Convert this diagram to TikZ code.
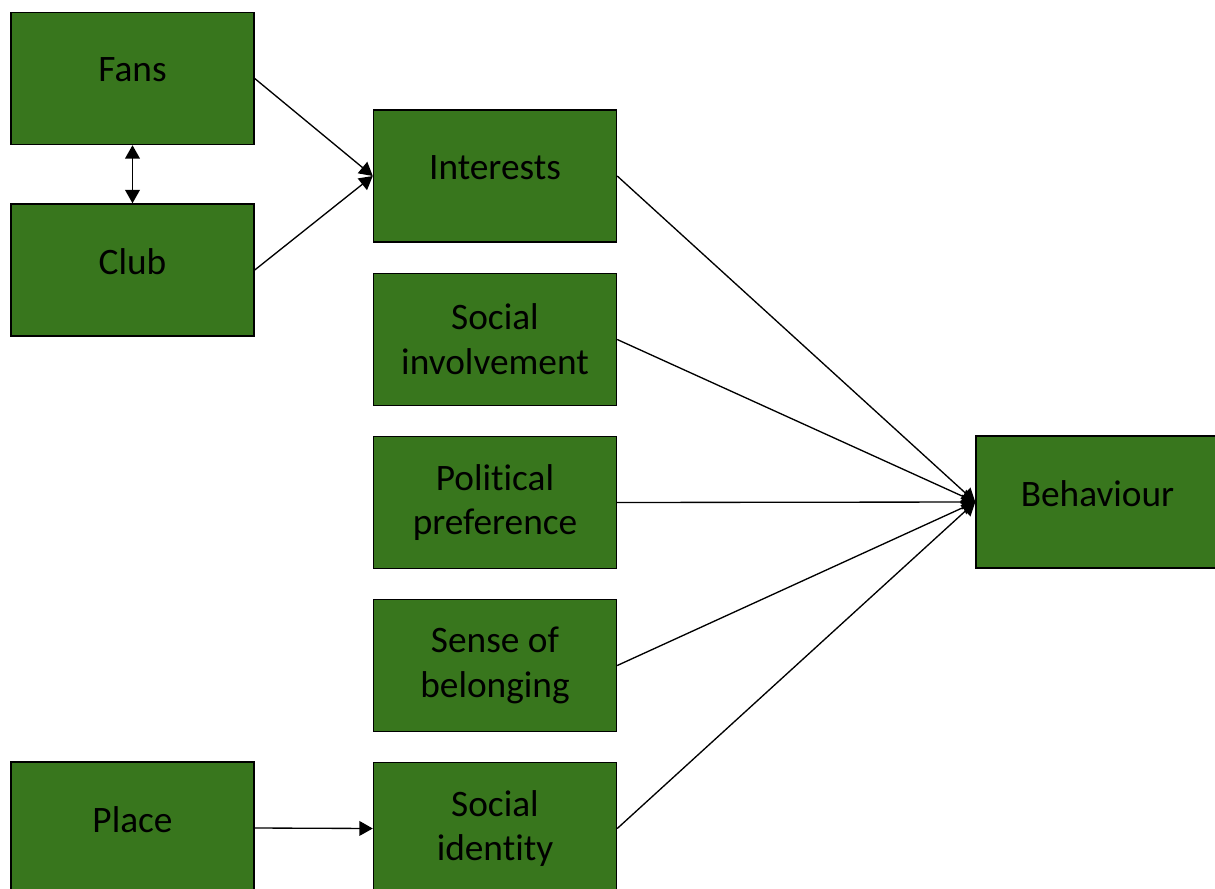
\documentclass[tikz,border=0pt]{standalone}
\usepackage{fontspec}
\setmainfont[Ligatures={NoCommon}]{Carlito}
\usetikzlibrary{arrows.meta}
\definecolor{boxgreen}{RGB}{56,118,29}
\tikzset{
  box/.style={draw=black, line width=1.1pt, fill=boxgreen, minimum width=243*0.75pt, minimum height=132*0.75pt, inner sep=0pt, align=center, font=\fontsize{28}{33.5}\selectfont},
  one/.style={label={[font=\fontsize{28}{33.5}\selectfont, yshift=6.5pt]center:#1}},
  conn/.style={line width=1pt, -{Triangle[length=10pt,width=11pt]}},
  dconn/.style={line width=1.1pt, {Triangle[length=10pt,width=11pt]}-{Triangle[length=10pt,width=11pt]}}
}
\begin{document}
\begin{tikzpicture}[x=0.75pt,y=-0.75pt]
\useasboundingbox (0,0) rectangle (1215,889);
\clip (0,0) rectangle (1215,889);
\node[box, one=Fans] (fans) at (132.5,78.5) {};
\node[box, one=Club] (club) at (132.5,270) {};
\node[box, one=Interests] (int) at (495,176) {};
\node[box] (soc) at (495,339.5) {Social\\involvement};
\node[box] (pol) at (495,502.5) {Political\\preference};
\node[box] (sen) at (495,665.5) {Sense of\\belonging};
\node[box] (sid) at (495,828.5) {Social\\identity};
\node[box, one=Place] (place) at (132.5,828) {};
\node[box, one=Behaviour] (beh) at (1097.5,502) {};
\draw[dconn] (fans.south) -- (club.north);
\draw[conn] (fans.east) -- (int.west);
\draw[conn] (club.east) -- (int.west);
\draw[conn] (int.east) -- (beh.west);
\draw[conn] (soc.east) -- (beh.west);
\draw[conn] (pol.east) -- (beh.west);
\draw[conn] (sen.east) -- (beh.west);
\draw[conn] (sid.east) -- (beh.west);
\draw[conn] (place.east) -- (sid.west);
\end{tikzpicture}
\end{document}
